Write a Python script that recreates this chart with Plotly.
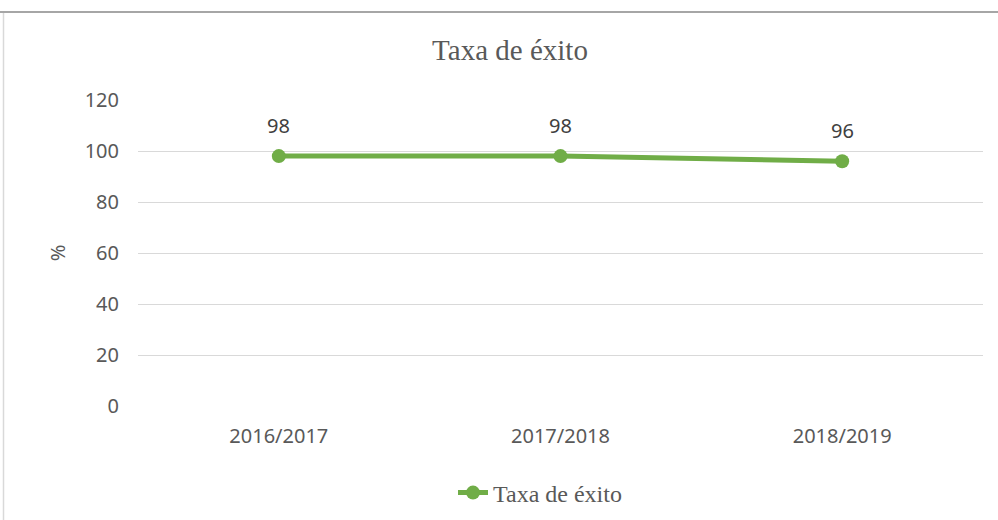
import plotly.graph_objects as go

categories = ["2016/2017", "2017/2018", "2018/2019"]
values = [98, 98, 96]
y_ticks = [0, 20, 40, 60, 80, 100, 120]
series_name = "Taxa de éxito"
title_text = "Taxa de éxito"

GREEN = "#70AD47"
GREY = "#595959"

fig = go.Figure()
fig.add_trace(go.Scatter(
    x=categories, y=values, name=series_name,
    mode="lines+markers",
    line=dict(color=GREEN, width=5),
    marker=dict(color=GREEN, size=14),
    cliponaxis=False,
))

for c, v in zip(categories, values):
    fig.add_annotation(x=c, y=v, text=str(v), showarrow=False, yshift=31,
                       font=dict(family="Noto Sans", size=20, color="#404040"))

W, H = 998, 520
L, R, T, B = 138, 15, 100, 114
pw = W - L - R
ph = H - T - B

def px(x):
    return (x - L) / pw

def py(y):
    return (H - B - y) / ph

fig.update_layout(
    template="none",
    width=W, height=H,
    margin=dict(l=L, r=R, t=T, b=B, autoexpand=False),
    paper_bgcolor="white", plot_bgcolor="white",
    title=dict(text=title_text, x=510 / W, xanchor="center", y=1 - 50 / H, yanchor="middle",
               font=dict(family="Liberation Serif", size=29, color=GREY)),
    showlegend=True,
    legend=dict(orientation="h", x=px(540), xanchor="center", y=py(493), yanchor="middle",
                bgcolor="rgba(0,0,0,0)",
                font=dict(family="Liberation Serif", size=24, color=GREY)),
    xaxis=dict(range=[-0.5, 2.5], showgrid=False, showline=False, zeroline=False, ticks="",
               automargin=False, ticklabelstandoff=16,
               tickfont=dict(family="Noto Sans", size=20, color=GREY)),
    yaxis=dict(range=[0, 120], tickvals=y_ticks, showgrid=True, gridcolor="#D9D9D9", gridwidth=1,
               zeroline=False, showline=False, ticks="", ticklabelstandoff=18, automargin=False,
               tickfont=dict(family="Noto Sans", size=20, color=GREY),
               title=dict(text="%", font=dict(family="Noto Sans", size=20, color=GREY), standoff=13)),
    shapes=[
        dict(type="line", xref="paper", yref="paper", x0=px(0), x1=px(W), y0=py(12), y1=py(12),
             line=dict(color="#A6A6A6", width=2)),
        dict(type="line", xref="paper", yref="paper", x0=px(3.5), x1=px(3.5), y0=py(13), y1=py(H),
             line=dict(color="#D9D9D9", width=1.5)),
    ],
)

fig.write_html("out.html", config={"displayModeBar": False},
               post_script="document.body.style.margin='0';")
